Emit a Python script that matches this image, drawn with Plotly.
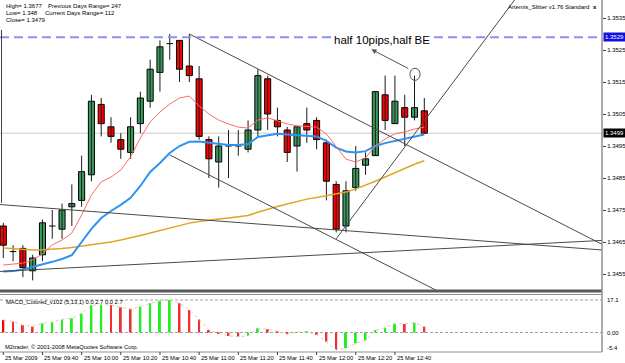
import plotly.graph_objects as go

W, H = 625, 363

# ---------------- data (EURUSD M5, 25 Mar 2009) ----------------
bars = list(range(44))
opens = [1.3470, 1.3462, 1.3463, 1.3456, 1.3461, 1.3470, 1.3469, 1.3476, 1.3478, 1.3486,
         1.3508, 1.3501, 1.3497, 1.3493, 1.3502, 1.3509, 1.3518, 1.3527, 1.3528, 1.3520,
         1.3516, 1.3497, 1.3490, 1.3495, 1.3495, 1.3494, 1.3500, 1.3516, 1.3503, 1.3500,
         1.3495, 1.3502, 1.3503, 1.3496, 1.3483, 1.3470, 1.3482, 1.3489, 1.3492, 1.3511,
         1.3502, 1.3507, 1.3504, 1.3506]
highs = [1.3471, 1.3464, 1.3464, 1.3461, 1.3472, 1.3475, 1.3477, 1.3483, 1.3492, 1.3511,
         1.3510, 1.3504, 1.3499, 1.3504, 1.3512, 1.3522, 1.3528, 1.3530, 1.3528, 1.3530,
         1.3520, 1.3498, 1.3498, 1.3500, 1.3500, 1.3503, 1.3519, 1.3517, 1.3507, 1.3501,
         1.3501, 1.3507, 1.3504, 1.3497, 1.3484, 1.3484, 1.3495, 1.3493, 1.3512, 1.3517,
         1.3517, 1.3511, 1.3517, 1.3510]
lows = [1.3460, 1.3459, 1.3454, 1.3453, 1.3459, 1.3466, 1.3466, 1.3470, 1.3476, 1.3484,
        1.3498, 1.3496, 1.3491, 1.3491, 1.3499, 1.3507, 1.3512, 1.3522, 1.3515, 1.3515,
        1.3497, 1.3485, 1.3482, 1.3485, 1.3492, 1.3493, 1.3498, 1.3500, 1.3498, 1.3490,
        1.3487, 1.3496, 1.3494, 1.3478, 1.3468, 1.3468, 1.3481, 1.3486, 1.3492, 1.3500,
        1.3502, 1.3495, 1.3503, 1.3499]
closes = [1.3464, 1.3462, 1.3457, 1.3460, 1.3471, 1.3470, 1.3475, 1.3477, 1.3487, 1.3509,
          1.3502, 1.3498, 1.3494, 1.3501, 1.3510, 1.3519, 1.3526, 1.3527, 1.3519, 1.3517,
          1.3498, 1.3491, 1.3495, 1.3495, 1.3495, 1.3500, 1.3517, 1.3505, 1.3501, 1.3493,
          1.3501, 1.3500, 1.3497, 1.3484, 1.3469, 1.3481, 1.3488, 1.3491, 1.3512, 1.3503,
          1.3509, 1.3504, 1.3507, 1.3499]

ma_fast = [1.34578, 1.34581, 1.34584, 1.34594, 1.34613, 1.34641, 1.34656, 1.34678, 1.34734, 1.34797,
           1.34838, 1.34853, 1.34875, 1.34916, 1.34975, 1.35025, 1.35056, 1.35081, 1.35100, 1.35106,
           1.35075, 1.35050, 1.35031, 1.35019, 1.35009, 1.35006, 1.35031, 1.35038, 1.35028, 1.35019,
           1.35013, 1.35010, 1.35009, 1.34988, 1.34947, 1.34909, 1.34900, 1.34913, 1.34950, 1.34972,
           1.34988, 1.34994, 1.35003, 1.35009]
ma_mid = [1.34558, 1.34559, 1.34564, 1.34572, 1.34578, 1.34588, 1.34597, 1.34609, 1.34650, 1.34691,
          1.34725, 1.34747, 1.34766, 1.34788, 1.34825, 1.34869, 1.34897, 1.34928, 1.34950, 1.34963,
          1.34964, 1.34961, 1.34956, 1.34953, 1.34953, 1.34956, 1.34978, 1.34984, 1.34988, 1.34986,
          1.34984, 1.34983, 1.34980, 1.34966, 1.34945, 1.34933, 1.34930, 1.34934, 1.34950, 1.34959,
          1.34966, 1.34972, 1.34978, 1.34986]
ma_slow = [1.34631, 1.34629, 1.34627, 1.34625, 1.34626, 1.34627, 1.34630, 1.34633, 1.34637, 1.34641,
           1.34645, 1.34650, 1.34656, 1.34662, 1.34670, 1.34678, 1.34686, 1.34694, 1.34702, 1.34709,
           1.34714, 1.34719, 1.34722, 1.34725, 1.34729, 1.34733, 1.34743, 1.34753, 1.34761, 1.34769,
           1.34777, 1.34784, 1.34789, 1.34794, 1.34800, 1.34806, 1.34816, 1.34827, 1.34840, 1.34853,
           1.34867, 1.34881, 1.34893, 1.34904]

macd_hist = [6.6, 5.7, 3.9, 3.1, 4.8, 5.5, 6.9, 7.5, 10.0, 14.4,
             14.6, 14.5, 13.3, 12.4, 13.6, 15.4, 16.7, 17.1, 15.4, 11.8,
             6.9, 1.3, -0.3, -1.8, -2.2, -1.8, 2.2, 1.7, 0.6, -0.9,
             0.2, 0.4, -1.3, -4.8, -9.2, -8.3, -5.7, -4.1, 1.3, 2.5,
             4.6, 4.5, 5.2, 3.1]
macd_levels = [17.1, 0.0]
macd_level_labels = ["17.1", "0.00"]
macd_min_label = "-5.4"

label_bars = [0, 4, 8, 12, 16, 20, 24, 28, 32, 36, 40]
time_labels = ["25 Mar 2009", "25 Mar 09:40", "25 Mar 10:00", "25 Mar 10:20", "25 Mar 10:40",
               "25 Mar 11:00", "25 Mar 11:20", "25 Mar 11:40", "25 Mar 12:00", "25 Mar 12:20",
               "25 Mar 12:40"]
price_ticks = [1.3455, 1.3465, 1.3475, 1.3485, 1.3495, 1.3505, 1.3515, 1.3525, 1.3535]
price_tick_text = ["1.3455", "1.3465", "1.3475", "1.3485", "1.3495", "1.3505", "1.3515", "1.3525", "1.3535"]

target_level = 1.3529
bid_level = 1.3499

# drawn objects: (bar, price) endpoints
trendlines = [
    [(19.0, 1.3530), (61.2, 1.34642)],
    [(17.0, 1.34922), (45.0, 1.34487)],
    [(34.0, 1.34660), (55.0, 1.35520)],
    [(-0.34, 1.34767), (61.2, 1.34625)],
    [(-0.34, 1.34558), (61.2, 1.34655)],
]
circle_center = (42.05, 1.35174)
arrow_tail = (41.5, 1.35190)
arrow_tip = (37.6, 1.35252)
note_pos = (38.7, 1.35281)
note_text = "half 10pips,half BE"

header_lines = [("High= 1.3677", "Previous Days Range= 247"),
                ("Low= 1.348", "Current Days Range= 112"),
                ("Close= 1.3479", None)]

# ---------------- figure ----------------
X_RIGHT = 602 / W
def py(p):  # pixel row -> paper y
    return 1 - p / H

fig = go.Figure()

UP = "#3B9A5E"
DN = "#FF0000"

# wicks
wx, wy = [], []
for i, h, l in zip(bars, highs, lows):
    wx += [i, i, None]
    wy += [l, h, None]
fig.add_trace(go.Scatter(x=wx, y=wy, mode="lines", line=dict(color="#1a1a1a", width=1),
                         hoverinfo="skip", showlegend=False))

# bodies
bx, bb, bh, bc = [], [], [], []
dx, dy = [], []
for i, o, c in zip(bars, opens, closes):
    if abs(c - o) < 1e-9:
        dx += [i - 0.33, i + 0.33, None]
        dy += [c, c, None]
    else:
        bx.append(i)
        bb.append(min(o, c))
        bh.append(abs(c - o))
        bc.append(UP if c > o else DN)
fig.add_trace(go.Bar(x=bx, y=bh, base=bb, width=0.62,
                     marker=dict(color=bc, line=dict(color="#000000", width=1)),
                     hoverinfo="skip", showlegend=False))
fig.add_trace(go.Scatter(x=dx, y=dy, mode="lines", line=dict(color="#000000", width=1),
                         hoverinfo="skip", showlegend=False))

# moving averages
fig.add_trace(go.Scatter(x=bars, y=ma_slow, mode="lines", line=dict(color="#E0A526", width=1.5),
                         hoverinfo="skip", showlegend=False))
fig.add_trace(go.Scatter(x=bars, y=ma_mid, mode="lines", line=dict(color="#2D93F0", width=2),
                         hoverinfo="skip", showlegend=False))
fig.add_trace(go.Scatter(x=bars, y=ma_fast, mode="lines", line=dict(color="#FF6A6A", width=1),
                         hoverinfo="skip", showlegend=False))

# trend lines
for seg in trendlines:
    fig.add_trace(go.Scatter(x=[seg[0][0], seg[1][0]], y=[seg[0][1], seg[1][1]], mode="lines",
                             line=dict(color="#4a4a42", width=1), hoverinfo="skip", showlegend=False))

# MACD histogram
mcol = []
for k, v in enumerate(macd_hist):
    if k == 0:
        mcol.append(DN)
    else:
        mcol.append("#22EE22" if v > macd_hist[k - 1] else "#F03030")
fig.add_trace(go.Bar(x=bars, y=macd_hist, width=0.2, yaxis="y2", marker=dict(color=mcol, line=dict(width=0)),
                     hoverinfo="skip", showlegend=False))
fig.add_trace(go.Scatter(x=bars, y=macd_hist, yaxis="y2", mode="lines",
                         line=dict(color="#E8C8B0", width=1, dash="dot"), hoverinfo="skip", showlegend=False))

shapes = []
# horizontal price lines
shapes.append(dict(type="line", xref="paper", yref="y", x0=0, x1=X_RIGHT, y0=bid_level, y1=bid_level,
                   line=dict(color="#C8C8C8", width=1), layer="below"))
shapes.append(dict(type="line", xref="paper", yref="y", x0=0, x1=X_RIGHT, y0=target_level, y1=target_level,
                   line=dict(color="#8F8FF2", width=2, dash="9px,5px")))
# MACD levels
for lv in macd_levels:
    shapes.append(dict(type="line", xref="paper", yref="y2", x0=0, x1=X_RIGHT, y0=lv, y1=lv,
                       line=dict(color="#A0A0A0", width=1, dash="3px,2px"), layer="below"))
# circle
cx, cy = circle_center
shapes.append(dict(type="circle", xref="x", yref="y", x0=cx - 0.52, x1=cx + 0.52,
                   y0=cy - 0.00019, y1=cy + 0.00019, line=dict(color="#555555", width=1)))
# left vertical object line
shapes.append(dict(type="line", xref="paper", yref="paper", x0=1.5 / W, x1=1.5 / W, y0=py(203), y1=py(30),
                   line=dict(color="#404040", width=1)))
# panel separator
shapes.append(dict(type="rect", xref="paper", yref="paper", x0=0, x1=X_RIGHT, y0=py(292.5), y1=py(289.5),
                   fillcolor="#5a5a5a", line=dict(width=0)))
shapes.append(dict(type="line", xref="paper", yref="paper", x0=0, x1=X_RIGHT, y0=py(294.5), y1=py(294.5),
                   line=dict(color="#909090", width=1)))
# right axis line
shapes.append(dict(type="line", xref="paper", yref="paper", x0=X_RIGHT, x1=X_RIGHT, y0=py(352), y1=1,
                   line=dict(color="#909090", width=1.5)))
# bottom axis line
shapes.append(dict(type="line", xref="paper", yref="paper", x0=0, x1=X_RIGHT, y0=py(352), y1=py(352),
                   line=dict(color="#909090", width=1)))

ann = []
F = "Liberation Sans, Arial, sans-serif"
# header
hy = [6, 13.5, 20.5]
for (a, b), yy in zip(header_lines, hy):
    ann.append(dict(xref="paper", yref="paper", x=4 / W, y=py(yy), text=a, showarrow=False,
                    xanchor="left", yanchor="middle", font=dict(family=F, size=6, color="#000")))
    if b:
        ann.append(dict(xref="paper", yref="paper", x=(46 if yy == 6 else 43) / W, y=py(yy), text=b,
                        showarrow=False, xanchor="left", yanchor="middle", font=dict(family=F, size=6, color="#000")))
ann.append(dict(xref="paper", yref="paper", x=591 / W, y=py(6.5), text="Artemis_Slitter v1.76 Standard",
                showarrow=False, xanchor="right", yanchor="middle", font=dict(family=F, size=6, color="#000")))
ann.append(dict(xref="paper", yref="paper", x=595 / W, y=py(6.5), text="<b>x</b>",
                showarrow=False, xanchor="center", yanchor="middle", font=dict(family=F, size=6, color="#000")))
# note and arrow
ann.append(dict(xref="x", yref="y", x=note_pos[0], y=note_pos[1], text=note_text, showarrow=False,
                font=dict(family=F, size=11.5, color="#000"), bgcolor="#FFFFFF", borderpad=1))
ann.append(dict(xref="x", yref="y", axref="x", ayref="y", x=arrow_tip[0], y=arrow_tip[1],
                ax=arrow_tail[0], ay=arrow_tail[1], text="", showarrow=True, arrowhead=2,
                arrowsize=1, arrowwidth=1, arrowcolor="#555555"))
# price boxes
ann.append(dict(xref="paper", yref="y", x=X_RIGHT + 1 / W, y=target_level, text="1.3529", showarrow=False,
                xanchor="left", yanchor="middle", bgcolor="#1010E0", font=dict(family=F, size=6, color="#FFF"),
                borderpad=1))
ann.append(dict(xref="paper", yref="y", x=X_RIGHT + 1 / W, y=bid_level, text="1.3499", showarrow=False,
                xanchor="left", yanchor="middle", bgcolor="#000000", font=dict(family=F, size=6, color="#FFF"),
                borderpad=1))
# MACD labels
for lv, tx in zip(macd_levels, macd_level_labels):
    ann.append(dict(xref="paper", yref="y2", x=X_RIGHT + 3 / W, y=lv, text=tx, showarrow=False,
                    xanchor="left", yanchor="middle", font=dict(family=F, size=6, color="#000")))
ann.append(dict(xref="paper", yref="y2 domain", x=X_RIGHT + 3 / W, y=0.05, text=macd_min_label, showarrow=False,
                xanchor="left", yanchor="middle", font=dict(family=F, size=6, color="#000")))
ann.append(dict(xref="paper", yref="paper", x=4 / W, y=py(301.5), text="MACD_Colored_v102 (5,13,1) 0.0 2.7 0.0 2.7",
                showarrow=False, xanchor="left", yanchor="middle", font=dict(family=F, size=5.8, color="#000")))
ann.append(dict(xref="paper", yref="paper", x=3 / W, y=py(347), text="M2trader, © 2001-2008 MetaQuotes Software Corp.",
                showarrow=False, xanchor="left", yanchor="middle", font=dict(family=F, size=5.8, color="#000")))
# time labels
for b, t in zip(label_bars, time_labels):
    ann.append(dict(xref="x", yref="paper", x=b, y=py(358), text=t, showarrow=False, xanchor="left",
                    yanchor="middle", xshift=0, font=dict(family=F, size=5.8, color="#000")))
    shapes.append(dict(type="line", xref="x", yref="paper", x0=b, x1=b, y0=py(352), y1=py(355),
                       line=dict(color="#404040", width=1)))

fig.update_layout(
    width=W, height=H, margin=dict(l=0, r=0, t=0, b=0),
    paper_bgcolor="#FFFFFF", plot_bgcolor="#FFFFFF",
    barmode="overlay", showlegend=False,
    xaxis=dict(domain=[0, X_RIGHT], range=[-0.337, 61.15], visible=False, fixedrange=True),
    yaxis=dict(domain=[py(290), 1], range=[1.3450, 1.354063], side="right", tickvals=price_ticks,
               ticktext=price_tick_text, ticks="outside", ticklen=3, tickcolor="#404040",
               tickfont=dict(family=F, size=6, color="#000"), showgrid=False, zeroline=False, showline=False),
    yaxis2=dict(domain=[py(351), py(295)], range=[-9.74, 19.74], anchor="x", showticklabels=False,
                showgrid=False, zeroline=False, showline=False),
    shapes=shapes, annotations=ann,
)

fig.write_html("out.html")
